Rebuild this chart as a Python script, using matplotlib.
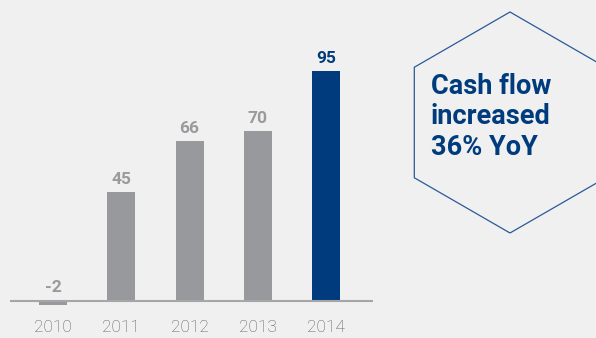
import matplotlib.pyplot as plt
from matplotlib.patches import RegularPolygon

# data
years = ['2010', '2011', '2012', '2013', '2014']
cash_flow = [-2, 45, 66, 70, 95]
highlight = '2014'
callout = 'Cash flow\nincreased\n36% YoY'

BG = '#f0f0f0'
GREY = '#98999c'
NAVY = '#003c7d'

fig = plt.figure(figsize=(5.96, 3.38), dpi=100, facecolor=BG)

# bar axes: spans the baseline from x=10px to x=373px
ax = fig.add_axes([10 / 596, 0, 363 / 596, 1])
ax.set_facecolor(BG)
px_per_unit = 2.416
ax.set_xlim(-0.63, 4.685)
ax.set_ylim(-37.5 / px_per_unit, 300.5 / px_per_unit)
ax.axis('off')

xs = list(range(len(years)))
colors = [NAVY if y == highlight else GREY for y in years]
ax.bar(xs, cash_flow, width=0.41, color=colors, zorder=2)
ax.axhline(0, color='#a6a6a8', lw=1.5, zorder=3)

for x, year, v, c in zip(xs, years, cash_flow, colors):
    label_col = NAVY if year == highlight else '#9a9a9c'
    ax.text(x, max(v, 0) + 12.5 / px_per_unit, f'{v}', ha='center',
            va='center', fontsize=12.5, fontweight='bold', color=label_col,
            family='Roboto')
    ax.text(x, -26.5 / px_per_unit, year, ha='center', va='center',
            fontsize=12.5, fontweight='light', color='#5e5e60',
            family='Roboto')

# overlay in pixel coordinates for the hexagon callout
ov = fig.add_axes([0, 0, 1, 1])
ov.set_xlim(0, 596)
ov.set_ylim(338, 0)
ov.axis('off')
ov.patch.set_alpha(0)
hexagon = RegularPolygon((510, 122.5), numVertices=6, radius=110.5,
                         orientation=0, fill=False, edgecolor='#2a5a98',
                         lw=0.9, clip_on=False)
ov.add_patch(hexagon)
ov.text(431, 117, callout, ha='left', va='center', fontsize=19.5,
        fontweight='bold', color=NAVY, family='Roboto', linespacing=1.18)

fig.savefig('out.png', dpi=100, facecolor=BG)
